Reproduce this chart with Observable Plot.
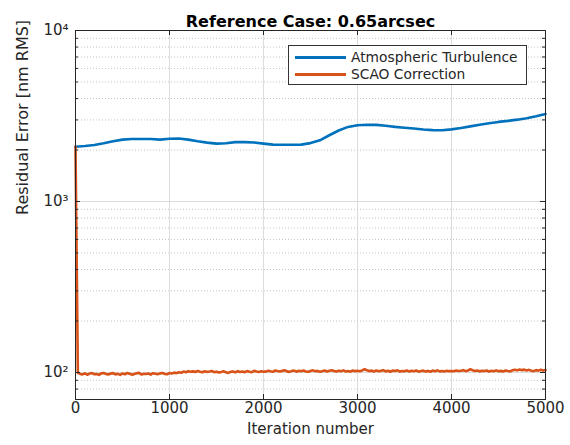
<!DOCTYPE html>
<html><head><meta charset="utf-8">
<script src="https://cdn.jsdelivr.net/npm/d3@7"></script>
<script src="https://cdn.jsdelivr.net/npm/@observablehq/plot@0.6"></script>
<style>
body{margin:0;background:#fff;}
#wrap{position:relative;width:570px;height:445px;font-family:"DejaVu Sans",sans-serif;}
#legend{position:absolute;left:288px;top:45px;width:239px;height:40px;border:1px solid #333;background:#fff;box-sizing:border-box;font-size:13.8px;color:#262626;}
.row{position:absolute;left:6px;display:flex;align-items:center;height:17px;line-height:17px;white-space:nowrap;}
.sw{width:51px;height:0;border-top:3px solid;margin-right:5px;}
</style></head><body><div id="wrap"></div>
<script>
const title = "Reference Case: 0.65arcsec";
const xLabel = "Iteration number";
const yLabel = "Residual Error [nm RMS]";
const seriesNames = ["Atmospheric Turbulence", "SCAO Correction"];
const seriesColors = ["#0072BD", "#D95319"];
const xTicks = [0, 1000, 2000, 3000, 4000, 5000];
const yTicks = [100, 1000, 10000];
const yTickLabels = ["10²", "10³", "10⁴"];
const yMinor = [80, 90, 200, 300, 400, 500, 600, 700, 800, 900, 2000, 3000, 4000, 5000, 6000, 7000, 8000, 9000];

const turbIter = d3.range(0, 5001, 100);
const turbValues = [
  2090, 2110, 2140, 2190, 2250, 2300, 2320, 2320, 2320, 2300,
  2330, 2335, 2300, 2250, 2210, 2180, 2190, 2225, 2225, 2215,
  2180, 2150, 2145, 2145, 2150, 2195, 2280, 2440, 2600, 2730,
  2790, 2810, 2805, 2770, 2730, 2700, 2670, 2635, 2615, 2612,
  2640, 2690, 2750, 2810, 2870, 2920, 2960, 3010, 3070, 3150,
  3250
];

const scaoIter = d3.range(0, 5001, 25);
const scaoValues = [
  2090,
  99.6, 98.1, 97.4, 98.9, 97.0, 98.5, 99.2, 97.7, 98.0, 96.9,
  98.8, 99.4, 97.9, 97.3, 98.6, 99.1, 97.5, 98.2, 96.8, 98.7,
  97.6, 99.3, 98.4, 97.1, 97.8, 98.9, 99.5, 97.4, 98.1, 97.9,
  98.6, 97.2, 99.0, 98.3, 97.6, 98.8, 99.4, 98.0, 97.7, 99.2,
  98.6, 99.8, 99.1, 100.4, 99.6, 101.2, 100.3, 101.8, 100.9, 101.5,
  100.6, 102.1, 101.0, 100.4, 101.7, 100.8, 101.3, 102.0, 100.5, 101.1,
  99.9, 100.7, 101.6, 100.2, 99.4, 100.9, 101.4, 100.1, 101.8, 100.6,
  101.2, 100.3, 101.9, 101.0, 100.5, 102.2, 101.3, 100.7, 101.6, 101.1,
  101.2, 102.4, 101.6, 100.9, 102.7, 101.9, 101.3, 102.2, 103.0, 101.5,
  100.8, 101.9, 102.6, 101.1, 102.3, 101.7, 102.8, 101.4, 100.9, 102.1,
  102.9, 101.6, 102.2, 101.0, 101.8, 102.6, 101.3, 102.4, 103.1, 101.9,
  101.2, 102.5, 101.7, 102.9, 101.4, 102.0, 101.1, 102.7, 101.8, 102.3,
  101.6, 102.8, 104.4, 103.0, 101.9, 102.5, 101.3, 102.7, 101.8, 102.2,
  103.1, 101.5, 102.4, 101.0, 102.6, 101.9, 102.9, 101.4, 102.1, 101.7,
  102.8, 101.2, 102.3, 101.6, 102.7, 101.1, 101.9, 102.5, 101.4, 102.2,
  101.0, 102.6, 101.7, 102.9, 101.5, 102.1, 101.3, 102.4, 101.8, 102.0,
  101.6, 102.7, 101.9, 102.4, 103.2, 101.8, 102.6, 104.5, 103.1, 102.0,
  102.8, 101.5, 102.3, 101.9, 102.7, 101.2, 102.4, 101.7, 102.9, 101.6,
  102.2, 101.4, 102.8, 102.0, 101.5, 103.0, 103.8, 102.9, 104.0, 103.2,
  103.9, 102.8, 103.6, 102.4, 101.8, 103.2, 102.5, 103.7, 102.6, 103.3
];

const turb = turbIter.map((x, i) => ({x, y: turbValues[i]}));
const scao = scaoIter.map((x, i) => ({x, y: scaoValues[i]}));

const W = 570, H = 445, mT = 30, mB = 46, mL = 75, mR = 25;
const fw = W - mL - mR, fh = H - mT - mB;
const axisColor = "#262626";

const chart = Plot.plot({
  width: W, height: H,
  marginTop: mT, marginBottom: mB, marginLeft: mL, marginRight: mR,
  style: {fontFamily: "DejaVu Sans, sans-serif", fontSize: "15px", color: axisColor, background: "#fff"},
  x: {domain: [0, 5000]},
  y: {type: "log", domain: [69.5, 10000]},
  marks: [
    Plot.ruleX(xTicks, {x: d => d, stroke: "#dcdcdc", strokeWidth: 1}),
    Plot.ruleY(yTicks, {y: d => d, stroke: "#dcdcdc", strokeWidth: 1}),
    Plot.ruleY(yMinor, {y: d => d, stroke: "#c4c4c4", strokeWidth: 1, strokeDasharray: "1,2"}),
    Plot.line(turb, {x: "x", y: "y", stroke: seriesColors[0], strokeWidth: 2.6}),
    Plot.line(scao, {x: "x", y: "y", stroke: seriesColors[1], strokeWidth: 2.6}),
    Plot.frame({stroke: axisColor, strokeWidth: 1}),
    Plot.tickX(xTicks, {x: d => d, stroke: axisColor, insetTop: fh - 5}),
    Plot.tickX(xTicks, {x: d => d, stroke: axisColor, insetBottom: fh - 5}),
    Plot.tickY(yTicks, {y: d => d, stroke: axisColor, insetRight: fw - 5}),
    Plot.tickY(yTicks, {y: d => d, stroke: axisColor, insetLeft: fw - 5}),
    Plot.tickY(yMinor, {y: d => d, stroke: axisColor, insetRight: fw - 3}),
    Plot.tickY(yMinor, {y: d => d, stroke: axisColor, insetLeft: fw - 3}),
    Plot.axisX(xTicks, {tickSize: 0, tickPadding: 3, fontSize: 15, label: null, tickFormat: d => String(d)}),
    Plot.axisY(yTicks, {tickSize: 0, tickPadding: 7, fontSize: 15, label: null,
      tickFormat: d => yTickLabels[yTicks.indexOf(d)]}),
    Plot.text([title], {text: d => d, frameAnchor: "top", dy: -15, fontWeight: "bold", fontSize: 16, fill: "#000"}),
    Plot.text([xLabel], {text: d => d, frameAnchor: "bottom", dy: 34, fontSize: 15}),
    Plot.text([yLabel], {text: d => d, frameAnchor: "left", rotate: -90, dx: -53, fontSize: 16})
  ]
});

const wrap = document.getElementById("wrap");
wrap.appendChild(chart);
const legend = document.createElement("div");
legend.id = "legend";
seriesNames.forEach((name, i) => {
  const row = document.createElement("div");
  row.className = "row";
  row.style.top = (i === 0 ? 2.5 : 20) + "px";
  const sw = document.createElement("span");
  sw.className = "sw";
  sw.style.borderTopColor = seriesColors[i];
  const t = document.createElement("span");
  t.textContent = name;
  row.appendChild(sw);
  row.appendChild(t);
  legend.appendChild(row);
});
wrap.appendChild(legend);
</script></body></html>
